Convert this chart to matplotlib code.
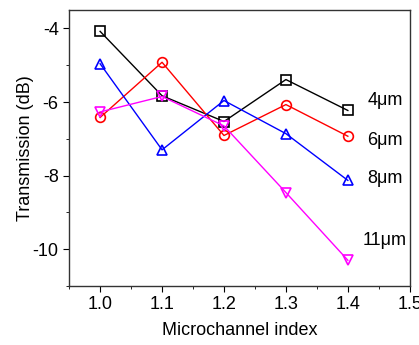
import matplotlib
matplotlib.use("Agg")
import matplotlib.pyplot as plt
from matplotlib.ticker import MultipleLocator

plt.rcParams['font.family'] = ['Liberation Sans', 'DejaVu Sans']
plt.rcParams['axes.unicode_minus'] = False

# data
channel_index = [1.0, 1.1, 1.2, 1.3, 1.4]
w4 = [-4.08, -5.83, -6.53, -5.39, -6.23]
w6 = [-6.42, -4.92, -6.91, -6.07, -6.93]
w8 = [-4.96, -7.30, -5.96, -6.86, -8.13]
w11 = [-6.27, -5.85, -6.65, -8.46, -10.30]

series = [
    (w4, 'black', 's', '4\u03bcm', -5.96),
    (w6, 'red', 'o', '6\u03bcm', -7.04),
    (w8, 'blue', '^', '8\u03bcm', -8.08),
    (w11, 'magenta', 'v', '11\u03bcm', -9.76),
]

fig = plt.figure(figsize=(4.19, 3.45), dpi=100)
ax = fig.add_axes([0.165, 0.171, 0.813, 0.800])

for vals, color, marker, label, label_y in series:
    ax.plot(channel_index, vals, color=color, marker=marker, markersize=7,
            markerfacecolor='none', markeredgecolor=color, markeredgewidth=1.2,
            linewidth=1.0)
    ax.text(1.46, label_y, label, fontsize=13, ha='center', va='center')

ax.set_xlim(0.95, 1.5)
ax.set_ylim(-11, -3.5)
ax.xaxis.set_minor_locator(MultipleLocator(0.05))
ax.yaxis.set_minor_locator(MultipleLocator(1))
ax.set_xticks([1.0, 1.1, 1.2, 1.3, 1.4, 1.5])
ax.set_xticklabels(['1.0', '1.1', '1.2', '1.3', '1.4', '1.5'])
ax.set_yticks([-4, -6, -8, -10])
ax.set_yticklabels(['-4', '-6', '-8', '-10'])

ax.tick_params(which='both', direction='out', top=False, right=False, labelsize=13)
ax.tick_params(which='major', length=4)
ax.tick_params(which='minor', length=2.5)
for s in ax.spines.values():
    s.set_linewidth(1.0)
    s.set_color('#333333')

ax.set_xlabel('Microchannel index', fontsize=13, labelpad=6)
ax.set_ylabel('Transmission (dB)', fontsize=13, labelpad=-1)

fig.savefig('out.png', dpi=100)
